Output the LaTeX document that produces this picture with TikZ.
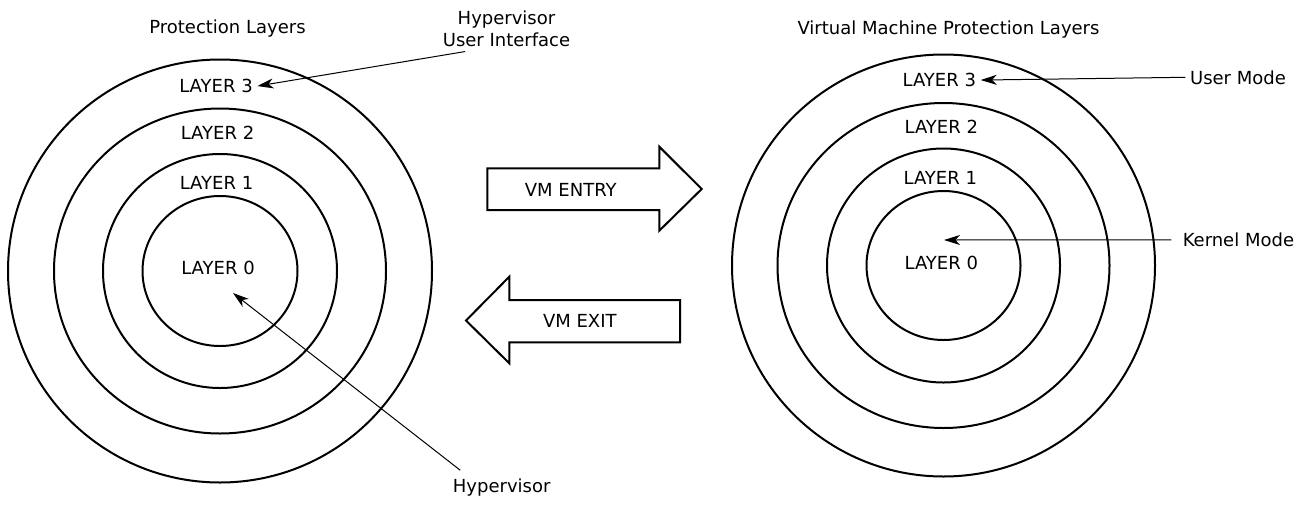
\documentclass[tikz,border=0pt]{standalone}
\usepackage{fontspec}
\setmainfont{DejaVu Sans}
\usepackage{tikz}
\usetikzlibrary{arrows.meta}
\usetikzlibrary{positioning}
\tikzset{>={Stealth[length=12pt, width=7.5pt, inset=3.5pt]}}
\tikzstyle{ring} = [draw=black, line width=1.5pt]
\tikzstyle{lbl} = [draw=none, anchor=base, font=\fontsize{13.5pt}{16.9pt}\selectfont]
\tikzstyle{callout} = [->, draw=black, line width=0.75pt]
\tikzstyle{bigarrow} = [draw=black, line width=1.5pt, line join=miter]

\begin{document}
\begin{tikzpicture}[x=0.75pt, y=-0.75pt]
\useasboundingbox (0,0) rectangle (1313,504);
% host side
\coordinate (hc) at (220,271);
\foreach \rx/\ry in {212/211.5, 166/162.5, 117/117, 77.5/75}
  \draw [ring] (hc) ellipse ({\rx} and {\ry});
\node [lbl] (htitle) at (227.5,33) {Protection Layers};
\node [lbl] (h3) at (216,92.6) {LAYER 3};
\node [lbl] (h2) at (217.5,139.6) {LAYER 2};
\node [lbl] (h1) at (216.5,189.6) {LAYER 1};
\node [lbl] (h0) at (218,274.6) {LAYER 0};
\node [lbl, anchor=center, align=center] (hui) at (506.5,28.6) {Hypervisor\\User Interface};
\node [lbl] (hv) at (501.7,492.6) {Hypervisor};
\coordinate (h0tip) at (233,293);
\draw [callout] ([xshift=-31pt]hui.south) to (h3.east);
\draw [callout] ([xshift=9pt, yshift=3pt]hv.north west) to (h0tip);

% vm entry / exit
\draw [bigarrow] (487.3,168.3) -- (659.3,168.3) -- (659.3,146.7) -- (701.7,189)
  -- (659.3,230.7) -- (659.3,210) -- (487.3,210) -- cycle;
\node [lbl] (entry) at (570.8,196.6) {VM ENTRY};
\draw [bigarrow] (680,300) -- (509.3,300) -- (509.3,276.7) -- (466,320.5)
  -- (509.3,363.3) -- (509.3,342.3) -- (680,342.3) -- cycle;
\node [lbl] (exit) at (579.8,327.6) {VM EXIT};

% guest side
\coordinate (gc) at (943.5,265.5);
\foreach \rx/\ry in {211.5/211, 166/162.5, 116.5/117, 77/74.5}
  \draw [ring] (gc) ellipse ({\rx} and {\ry});
\node [lbl] (gtitle) at (948.5,34.5) {Virtual Machine Protection Layers};
\node [lbl] (g3) at (939.3,86.6) {LAYER 3};
\node [lbl] (g2) at (941.3,133.6) {LAYER 2};
\node [lbl] (g1) at (940.3,184.6) {LAYER 1};
\node [lbl] (g0) at (941.3,269.6) {LAYER 0};
\node [lbl] (um) at (1238,84) {User Mode};
\node [lbl] (km) at (1238.4,246.6) {Kernel Mode};
\coordinate (g0tip) at (944,240);
\draw [callout] (um.west) to (g3.east);
\draw [callout, shorten <=5pt] (km.west) to (g0tip);
\end{tikzpicture}
\end{document}
